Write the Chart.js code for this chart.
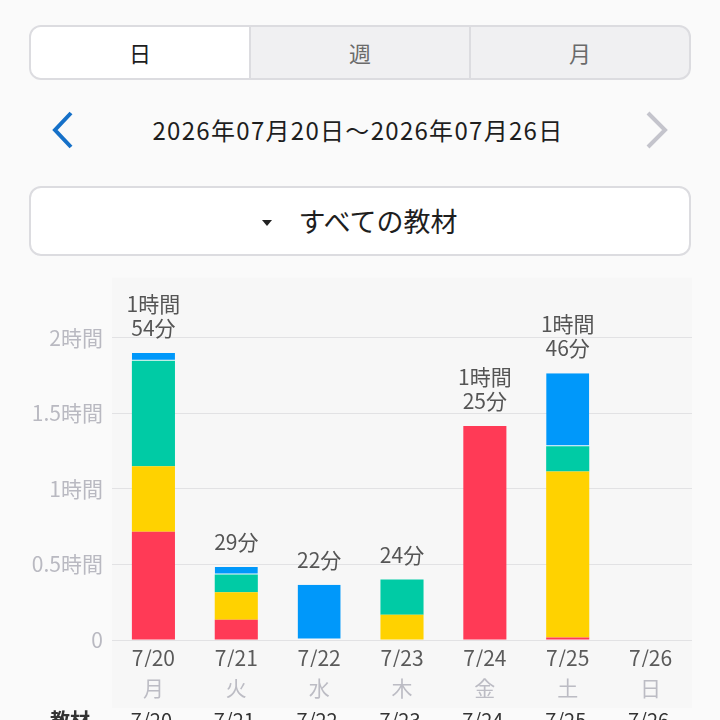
<!DOCTYPE html>
<html lang="ja">
<head>
<meta charset="utf-8">
<title>学習時間</title>
<script src="https://cdn.jsdelivr.net/npm/chart.js@4/dist/chart.umd.min.js"></script>
<style>
  html, body { margin: 0; padding: 0; background: #fafafa; overflow: hidden; }
  body { width: 720px; height: 720px; position: relative; font-family: "Noto Sans CJK JP", sans-serif; }
  .seg { position: absolute; left: 29px; top: 25px; width: 662px; height: 55px; box-sizing: border-box;
         border: 2px solid #dcdce0; border-radius: 12px; overflow: hidden; display: flex; background: #f0f0f2; }
  .seg div { flex: 1; text-align: center; line-height: 51px; font-size: 22px; color: #6a6a6a; }
  .seg div + div { border-left: 2px solid #dcdce0; }
  .seg .on { background: #fff; color: #1e1e1e; }
  .nav { position: absolute; top: 110px; left: 0; width: 720px; height: 40px; }
  .nav .date { position: absolute; left: 0; width: 716px; text-align: center; line-height: 40px; font-size: 24px; letter-spacing: 1.3px; color: #1e1e1e; }
  .nav svg { position: absolute; top: 0; }
  .drop { position: absolute; left: 29px; top: 186px; width: 662px; height: 70px; box-sizing: border-box;
          border: 2px solid #dcdce0; border-radius: 12px; background: #fff; text-align: center; }
  .drop span { font-size: 27px; line-height: 66px; color: #1e1e1e; }
  .drop i { display: inline-block; width: 0; height: 0; border-left: 5px solid transparent; border-right: 5px solid transparent;
            border-top: 6px solid #222; vertical-align: middle; margin-right: 26px; position: relative; top: -2px; }
  .wrap { position: absolute; left: 0; top: 256px; width: 720px; height: 452px; }
  .row { position: absolute; top: 708px; left: 0; width: 720px; height: 30px; font-size: 20px; line-height: 24px; color: #333; }
  .row span { position: absolute; top: 0; }
</style>
</head>
<body>
<div class="seg"><div class="on">日</div><div>週</div><div>月</div></div>
<div class="nav">
  <svg style="left:50px" width="26" height="40" viewBox="0 0 26 40"><polyline points="21,3 5,20 21,37" fill="none" stroke="#1570c8" stroke-width="4"/></svg>
  <div class="date">2026年07月20日～2026年07月26日</div>
  <svg style="left:644px" width="26" height="40" viewBox="0 0 26 40"><polyline points="4,3 21,20 4,37" fill="none" stroke="#c4c4cc" stroke-width="4"/></svg>
</div>
<div class="drop"><span><i></i>すべての教材</span></div>
<div class="wrap"><canvas id="myChart"></canvas></div>
<div class="row" id="row"></div>
<script>
// categories and minutes per material (red, yellow, green, blue)
var dates = ['7/20', '7/21', '7/22', '7/23', '7/24', '7/25', '7/26'];
var weekdays = ['月', '火', '水', '木', '金', '土', '日'];
var redMinutes = [43, 8, 0, 0, 85, 1, 0];
var yellowMinutes = [26, 11, 0, 10, 0, 66, 0];
var greenMinutes = [42, 7, 0, 14, 0, 10, 0];
var blueMinutes = [3, 3, 22, 0, 0, 29, 0];
var yTickLabels = { 0: '0', 30: '0.5時間', 60: '1時間', 90: '1.5時間', 120: '2時間' };

// bottom table header row (cut off by the window)
var row = document.getElementById('row');
row.innerHTML = '<span style="left:50px;font-weight:bold">教材</span>';
dates.forEach(function(d, i) {
    var cx = 112 + 580 / 7 * (i + 0.5) - 2;
    row.innerHTML += '<span style="left:' + (cx - 24) + 'px;width:48px;text-align:center">' + d + '</span>';
});

function totalOf(i) {
    return redMinutes[i] + yellowMinutes[i] + greenMinutes[i] + blueMinutes[i];
}

// chart area background
var bgPlugin = {
    id: 'bg',
    beforeDraw: function(chart) {
        var a = chart.chartArea, ctx = chart.ctx;
        ctx.save();
        ctx.fillStyle = '#f7f7f7';
        ctx.fillRect(a.left, a.top, a.right - a.left, chart.height - a.top);
        ctx.restore();
    }
};

// total time above each bar
var totalPlugin = {
    id: 'totals',
    afterDatasetsDraw: function(chart) {
        var ctx = chart.ctx;
        ctx.save();
        ctx.font = '21px "Noto Sans CJK JP"';
        ctx.fillStyle = '#555555';
        ctx.textAlign = 'center';
        ctx.textBaseline = 'middle';
        dates.forEach(function(d, i) {
            var t = totalOf(i);
            if (!t) return;
            var lines = t >= 60 ? [Math.floor(t / 60) + '時間', (t % 60) + '分'] : [t + '分'];
            var x = chart.scales.x.getPixelForValue(i);
            var y = chart.scales.y.getPixelForValue(t) - 25;
            for (var k = lines.length - 1; k >= 0; k--) {
                ctx.fillText(lines[k], x, y);
                y -= 24;
            }
        });
        ctx.restore();
    }
};

function renderChart() {
    Chart.defaults.font.family = '"Noto Sans CJK JP", sans-serif';
    var ctx = document.getElementById('myChart').getContext('2d');
    var common = { barPercentage: 0.52, categoryPercentage: 1 };
    new Chart(ctx, {
        type: 'bar',
        data: {
            labels: dates,
            datasets: [
                Object.assign({ data: redMinutes, backgroundColor: '#ff3a56' }, common),
                Object.assign({ data: yellowMinutes, backgroundColor: '#ffd200' }, common),
                Object.assign({ data: greenMinutes, backgroundColor: '#00cba5' }, common),
                Object.assign({ data: blueMinutes, backgroundColor: '#0098fa',
                    borderColor: 'rgba(255,255,255,0.85)', borderWidth: { top: 0, left: 0, right: 0, bottom: 1 },
                    borderSkipped: false }, common)
            ]
        },
        options: {
            responsive: true,
            maintainAspectRatio: false,
            animation: false,
            layout: { padding: { top: 7, right: 28, left: 0, bottom: 0 } },
            plugins: { legend: { display: false }, tooltip: { enabled: false } },
            scales: {
                x: {
                    stacked: true,
                    grid: { display: false },
                    border: { display: false },
                    ticks: { color: '#5a5a5a', font: { size: 21 }, padding: -3 },
                    afterFit: function(s) { s.height = 27; }
                },
                x2: {
                    type: 'category',
                    labels: weekdays,
                    position: 'bottom',
                    weight: 1,
                    grid: { display: false },
                    border: { display: false },
                    ticks: { color: '#bcbcc4', font: { size: 21 }, padding: 0 },
                    afterFit: function(s) { s.height = 41; }
                },
                y: {
                    stacked: true,
                    min: 0,
                    max: 144,
                    grid: { color: '#e2e2e4', drawTicks: false },
                    border: { display: false },
                    ticks: {
                        stepSize: 30,
                        padding: 9,
                        color: '#b9b9c1',
                        font: { size: 21 },
                        callback: function(v) { return yTickLabels[v]; }
                    },
                    afterBuildTicks: function(s) {
                        s.ticks = s.ticks.filter(function(t) { return t.value % 30 === 0; });
                    },
                    afterFit: function(s) { s.width = 112; }
                }
            }
        },
        plugins: [bgPlugin, totalPlugin]
    });
}
window.onload = renderChart;
</script>
</body>
</html>
